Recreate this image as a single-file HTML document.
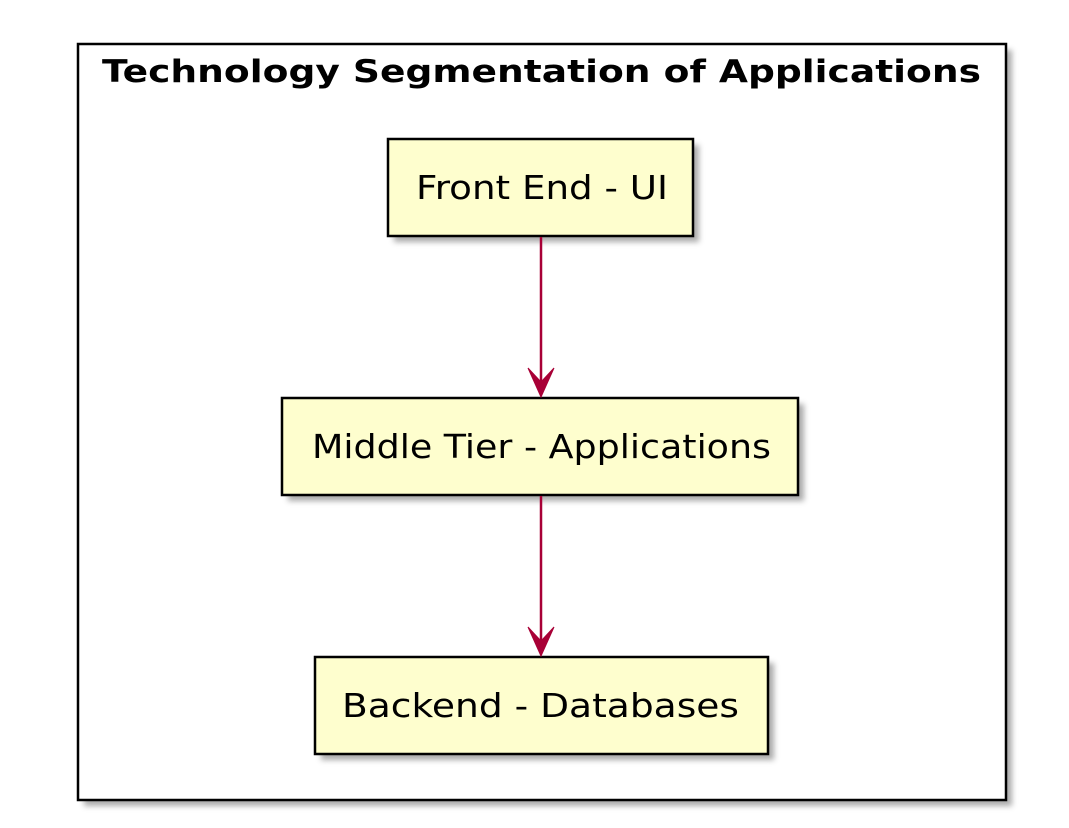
<!DOCTYPE html>
<html><head><style>html,body{margin:0;padding:0;background:#fff;}</style></head>
<body>
<svg width="1069" height="823" viewBox="0 0 1069 823" xmlns="http://www.w3.org/2000/svg">
<defs>
<filter id="sh" x="-10%" y="-10%" width="130%" height="130%">
<feGaussianBlur stdDeviation="3"/>
</filter>
</defs>
<rect x="84" y="50" width="928" height="756" fill="#888" opacity="0.7" filter="url(#sh)"/>
<rect x="78" y="44" width="928" height="756" fill="#fff" stroke="#000" stroke-width="2.5"/>
<text x="102" y="82" font-family="DejaVu Sans, sans-serif" font-weight="bold" font-size="31" textLength="879" lengthAdjust="spacingAndGlyphs">Technology Segmentation of Applications</text>

<g font-family="DejaVu Sans, sans-serif" font-size="33" fill="#000">
<rect x="394" y="145" width="305" height="97" fill="#888" opacity="0.7" filter="url(#sh)"/>
<rect x="388" y="139" width="305" height="97" fill="#FEFECE" stroke="#000" stroke-width="2.5"/>
<text x="416" y="199" textLength="252" lengthAdjust="spacingAndGlyphs">Front End - UI</text>

<rect x="288" y="404" width="516" height="97" fill="#888" opacity="0.7" filter="url(#sh)"/>
<rect x="282" y="398" width="516" height="97" fill="#FEFECE" stroke="#000" stroke-width="2.5"/>
<text x="312" y="458" textLength="459" lengthAdjust="spacingAndGlyphs">Middle Tier - Applications</text>

<rect x="321" y="663" width="453" height="97" fill="#888" opacity="0.7" filter="url(#sh)"/>
<rect x="315" y="657" width="453" height="97" fill="#FEFECE" stroke="#000" stroke-width="2.5"/>
<text x="342" y="717" textLength="397" lengthAdjust="spacingAndGlyphs">Backend - Databases</text>
</g>

<g stroke="#A80036" stroke-width="2.5" fill="#A80036">
<line x1="541" y1="237" x2="541" y2="390"/>
<polygon points="541,397 528,368 541,382 554,368" stroke-width="1"/>
<line x1="541" y1="496" x2="541" y2="649"/>
<polygon points="541,656 528,627 541,641 554,627" stroke-width="1"/>
</g>
</svg>
</body></html>
